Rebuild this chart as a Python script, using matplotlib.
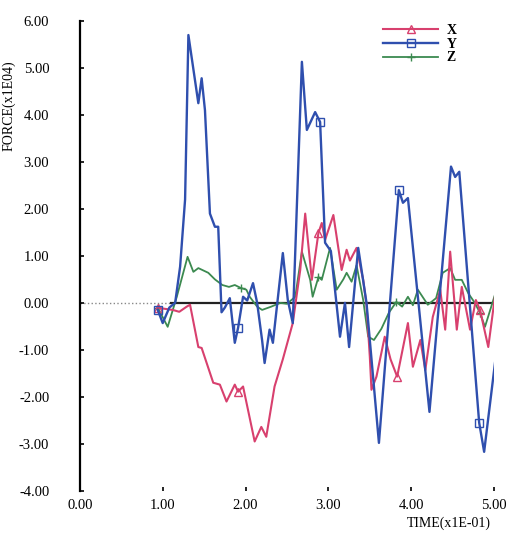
import numpy as np
import matplotlib
matplotlib.use('Agg')
import matplotlib.pyplot as plt
from matplotlib.ticker import FormatStrFormatter

# force components (x1E04) against time (x1E-01)
x_time = [0.94, 1.00, 1.12, 1.20, 1.29, 1.33, 1.43, 1.47, 1.61, 1.69, 1.77, 1.87, 1.91, 1.97,
          2.11, 2.19, 2.25, 2.35, 2.45, 2.57, 2.66, 2.72, 2.80, 2.88, 2.92, 2.96, 3.06, 3.16,
          3.22, 3.26, 3.34, 3.42, 3.46, 3.50, 3.52, 3.58, 3.68, 3.75, 3.83, 3.96, 4.02, 4.11,
          4.17, 4.26, 4.35, 4.41, 4.47, 4.55, 4.61, 4.71, 4.78, 4.83, 4.93, 5.01]
x_force = [-0.10, -0.12, -0.15, -0.19, -0.08, -0.04, -0.94, -0.96, -1.70, -1.74, -2.10, -1.74,
           -1.89, -1.78, -2.95, -2.64, -2.85, -1.78, -1.20, -0.43, 0.70, 1.90, 0.49, 1.49, 1.70,
           1.34, 1.87, 0.70, 1.13, 0.90, 1.17, 0.49, -0.04, -1.15, -1.85, -1.57, -0.72, -1.20,
           -1.57, -0.43, -1.36, -0.79, -1.43, -0.30, 0.28, -0.57, 1.09, -0.57, 0.34, -0.57, 0.06,
           -0.15, -0.94, 0.13]

y_time = [0.94, 1.00, 1.08, 1.15, 1.21, 1.27, 1.31, 1.43, 1.47, 1.51, 1.57, 1.63, 1.67, 1.71,
          1.75, 1.81, 1.87, 1.91, 1.97, 2.02, 2.09, 2.14, 2.20, 2.23, 2.29, 2.33, 2.45, 2.51,
          2.57, 2.68, 2.74, 2.84, 2.90, 2.96, 3.03, 3.14, 3.20, 3.25, 3.36, 3.46, 3.61, 3.85,
          3.90, 3.96, 4.22, 4.48, 4.53, 4.58, 4.82, 4.88, 5.02]
y_force = [-0.15, -0.43, -0.10, 0.00, 0.77, 2.20, 5.70, 4.25, 4.78, 4.10, 1.90, 1.62, 1.62,
           -0.20, -0.10, 0.10, -0.85, -0.53, 0.13, 0.05, 0.42, 0.00, -0.80, -1.28, -0.57, -0.85,
           1.06, 0.06, -0.43, 5.13, 3.68, 4.06, 3.85, 1.28, 1.10, -0.72, 0.00, -0.94, 1.17, 0.00,
           -2.98, 2.40, 2.13, 2.23, -2.32, 2.90, 2.68, 2.79, -2.55, -3.17, -1.15]

z_time = [0.94, 1.06, 1.17, 1.30, 1.37, 1.43, 1.55, 1.63, 1.72, 1.80, 1.87, 1.94, 2.01, 2.05,
          2.14, 2.20, 2.31, 2.42, 2.50, 2.60, 2.68, 2.72, 2.78, 2.81, 2.88, 2.92, 3.02, 3.10,
          3.18, 3.22, 3.28, 3.34, 3.42, 3.48, 3.55, 3.64, 3.73, 3.82, 3.89, 3.96, 4.02, 4.08,
          4.20, 4.30, 4.38, 4.47, 4.53, 4.61, 4.69, 4.76, 4.83, 4.89, 5.01]
z_force = [-0.10, -0.51, 0.13, 0.98, 0.66, 0.74, 0.64, 0.50, 0.38, 0.34, 0.38, 0.32, 0.28,
           0.13, -0.08, -0.15, -0.08, 0.00, -0.02, 0.13, 1.09, 0.85, 0.49, 0.13, 0.55, 0.49,
           1.17, 0.28, 0.50, 0.64, 0.45, 0.80, 0.06, -0.72, -0.79, -0.55, -0.21, 0.02, -0.08,
           0.13, -0.05, 0.28, -0.04, 0.10, 0.64, 0.74, 0.49, 0.49, 0.20, 0.02, -0.21, -0.51, 0.17]

mark_at = [0.94, 1.91, 2.90, 3.85, 4.82]


def mark_idx(t):
    t = np.asarray(t)
    return [int(np.argmin(abs(t - m))) for m in mark_at]


plt.rcParams['font.family'] = 'Liberation Serif'
fig = plt.figure(figsize=(5.12, 5.37), dpi=100)
ax = fig.add_axes([0.156, 0.086, 0.809, 0.875])

# zero reference line: dotted before the event, solid after
ax.plot([0, 1.1], [0, 0], color='#888888', lw=1.0, ls=':', zorder=1)
ax.plot([1.1, 5.0], [0, 0], color='#222222', lw=1.6, zorder=1)

ax.plot(x_time, x_force, color='#d8406e', lw=1.5, marker='^', ms=6, mfc='none',
        markevery=mark_idx(x_time), label='X', zorder=3)
ax.plot(y_time, y_force, color='#2f4fae', lw=1.7, marker='s', ms=6, mfc='none',
        markevery=mark_idx(y_time), label='Y', zorder=4)
ax.plot(z_time, z_force, color='#3c8a50', lw=1.3, marker='+', ms=6,
        markevery=mark_idx(z_time), label='Z', zorder=2)

ax.set_xlim(0, 5)
ax.set_ylim(-4, 6)
ax.set_xticks([0, 1, 2, 3, 4, 5])
ax.set_yticks(np.arange(-4, 7, 1))
ax.xaxis.set_major_formatter(FormatStrFormatter('%.2f'))
ax.yaxis.set_major_formatter(FormatStrFormatter('%.2f'))
ax.tick_params(axis='y', direction='in', length=3, width=1.2, pad=22, labelsize=10.5)
ax.tick_params(axis='x', direction='in', length=3, width=1.2, pad=6, labelsize=10.5)
for s in ['top', 'right', 'bottom']:
    ax.spines[s].set_visible(False)
ax.spines['left'].set_linewidth(1.6)

ax.set_ylabel('FORCE(x1E04)', fontsize=10)
ax.yaxis.set_label_coords(-0.155, 0.82)
ax.text(4.45, -4.68, 'TIME(x1E-01)', fontsize=10, ha='center', va='center')

leg = ax.legend(loc='upper right', bbox_to_anchor=(0.94, 1.02), frameon=False, fontsize=10,
                handlelength=4.0, labelspacing=0.05, handletextpad=0.6)
for t in leg.get_texts():
    t.set_fontweight('bold')

fig.savefig('out.png', dpi=100)
